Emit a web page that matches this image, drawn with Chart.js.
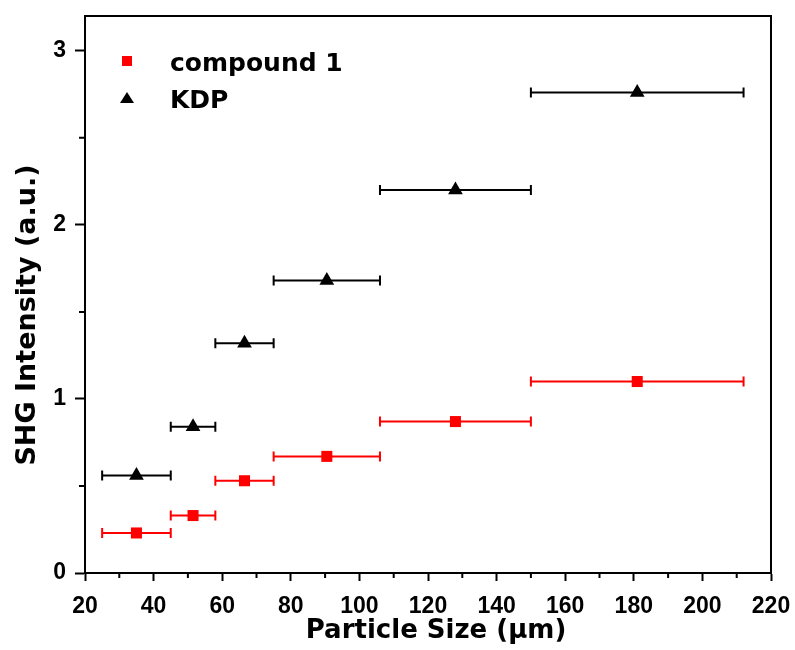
<!DOCTYPE html>
<html>
<head>
<meta charset="utf-8">
<script src="https://cdn.jsdelivr.net/npm/chart.js@4.4.1/dist/chart.umd.min.js"></script>
<style>
  html, body { margin: 0; padding: 0; background: #fff; }
</style>
</head>
<body>
<canvas id="shgChart" width="795" height="650"></canvas>
<script>
// ===============================
// Data
// ===============================
const sizeMid  = [35, 51.5, 66.5, 90.5, 128, 181];
const sizeLow  = [25, 45, 58, 75, 106, 150];
const sizeHigh = [45, 58, 75, 106, 150, 212];

const compound1 = [0.23, 0.33, 0.53, 0.67, 0.87, 1.10];
const kdp       = [0.56, 0.84, 1.32, 1.68, 2.20, 2.76];

const xTicks = [20, 40, 60, 80, 100, 120, 140, 160, 180, 200, 220];
const xMinor = [30, 50, 70, 90, 110, 130, 150, 170, 190, 210];
const yTicks = [0, 1, 2, 3];
const yMinor = [0.5, 1.5, 2.5];

const FONT = "'DejaVu Sans', sans-serif";
const TICK_FONT = "'Liberation Sans', Arial, sans-serif";

const toPoints = ys => sizeMid.map((x, i) => ({ x, y: ys[i], lo: sizeLow[i], hi: sizeHigh[i] }));

// ===============================
// Horizontal error bars
// ===============================
const errorBars = {
  id: "errorBars",
  beforeDatasetsDraw(chart) {
    const { ctx, scales: { x, y } } = chart;
    ctx.save();
    ctx.lineWidth = 2;
    chart.data.datasets.forEach(ds => {
      ctx.strokeStyle = ds.borderColor;
      ds.data.forEach(p => {
        const py = y.getPixelForValue(p.y);
        const x1 = x.getPixelForValue(p.lo);
        const x2 = x.getPixelForValue(p.hi);
        ctx.beginPath();
        ctx.moveTo(x1, py); ctx.lineTo(x2, py);
        ctx.moveTo(x1, py - 5); ctx.lineTo(x1, py + 5);
        ctx.moveTo(x2, py - 5); ctx.lineTo(x2, py + 5);
        ctx.stroke();
      });
    });
    ctx.restore();
  }
};

// ===============================
// Frame, minor ticks, titles, legend
// ===============================
const decorations = {
  id: "decorations",
  afterDraw(chart) {
    const { ctx, chartArea: a, scales: { x, y } } = chart;
    ctx.save();
    ctx.strokeStyle = "#000";
    ctx.lineWidth = 2;

    // top + right frame
    ctx.beginPath();
    ctx.moveTo(a.left, a.top); ctx.lineTo(a.right, a.top); ctx.lineTo(a.right, a.bottom);
    ctx.stroke();

    // minor ticks
    ctx.beginPath();
    xMinor.forEach(v => {
      const px = x.getPixelForValue(v);
      ctx.moveTo(px, a.bottom); ctx.lineTo(px, a.bottom + 5);
    });
    yMinor.forEach(v => {
      const py = y.getPixelForValue(v);
      ctx.moveTo(a.left, py); ctx.lineTo(a.left - 6, py);
    });
    ctx.stroke();

    // axis titles
    ctx.fillStyle = "#000";
    ctx.font = "bold 26px " + FONT;
    ctx.textAlign = "center";
    ctx.textBaseline = "alphabetic";
    ctx.fillText("Particle Size (\u03bcm)", 436, 638);

    ctx.save();
    ctx.font = "bold 27px " + FONT;
    ctx.translate(35, 315);
    ctx.rotate(-Math.PI / 2);
    ctx.fillText("SHG Intensity (a.u.)", 0, 0);
    ctx.restore();

    // legend
    ctx.textAlign = "left";
    ctx.font = "bold 25px " + FONT;
    ctx.fillStyle = "#ff0000";
    ctx.fillRect(122, 56, 10, 10);
    ctx.fillStyle = "#000";
    ctx.fillText(chart.data.datasets[0].label, 170, 71);

    ctx.beginPath();
    ctx.moveTo(127, 92); ctx.lineTo(134, 103); ctx.lineTo(120, 103);
    ctx.closePath();
    ctx.fill();
    ctx.fillText(chart.data.datasets[1].label, 170, 108);

    ctx.restore();
  }
};

const tickFont = { family: TICK_FONT, size: 23, weight: "bold" };

// keep the plot box fixed: no extra label padding from the scales
const noPad = s => { s.paddingTop = 0; s.paddingBottom = 0; s.paddingLeft = 0; s.paddingRight = 0; };

new Chart(document.getElementById("shgChart"), {
  type: "scatter",
  data: {
    datasets: [
      {
        label: "compound 1",
        data: toPoints(compound1),
        pointStyle: "rect",
        pointRadius: 7.8,
        backgroundColor: "#ff0000",
        borderColor: "#ff0000",
        borderWidth: 0
      },
      {
        label: "KDP",
        data: toPoints(kdp),
        pointStyle: "triangle",
        pointRadius: 8.5,
        backgroundColor: "#000000",
        borderColor: "#000000",
        borderWidth: 0
      }
    ]
  },
  options: {
    responsive: false,
    animation: false,
    devicePixelRatio: 1,
    layout: { padding: { top: 16, right: 24, left: 0, bottom: 0 } },
    plugins: {
      legend: { display: false },
      tooltip: { enabled: false }
    },
    scales: {
      x: {
        type: "linear",
        min: 20,
        max: 220,
        afterBuildTicks: s => { s.ticks = xTicks.map(v => ({ value: v })); },
        afterFit: s => { s.height = 77; noPad(s); },
        ticks: { font: tickFont, color: "#000", padding: 12 },
        grid: { drawOnChartArea: false, tickLength: 8, tickWidth: 2, tickColor: "#000" },
        border: { color: "#000", width: 2 }
      },
      y: {
        type: "linear",
        min: 0,
        max: 3.2,
        afterBuildTicks: s => { s.ticks = yTicks.map(v => ({ value: v })); },
        afterFit: s => { s.width = 85; noPad(s); },
        ticks: { font: tickFont, color: "#000", padding: 9 },
        grid: { drawOnChartArea: false, tickLength: 10, tickWidth: 2, tickColor: "#000" },
        border: { color: "#000", width: 2 }
      }
    }
  },
  plugins: [errorBars, decorations]
});
</script>
</body>
</html>
